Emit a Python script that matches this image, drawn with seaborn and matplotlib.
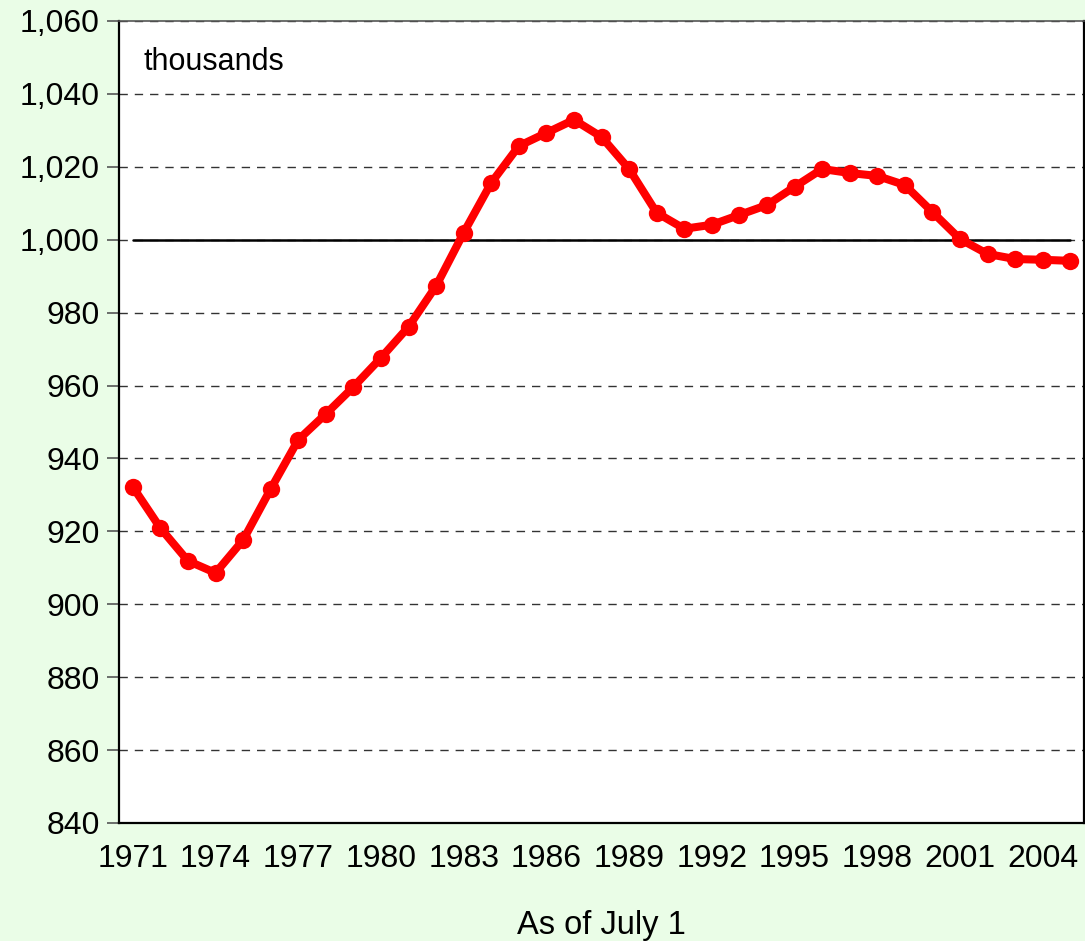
import numpy as np
import pandas as pd
import matplotlib.pyplot as plt
import seaborn as sns

# ---------------------------------------------------------
# Data (thousands, as of July 1)
# ---------------------------------------------------------
years = list(range(1971, 2006))
population = [932.2, 920.9, 911.9, 908.6, 917.6, 931.6, 945.1, 952.2, 959.6, 967.6,
              976.1, 987.3, 1001.9, 1015.6, 1025.7, 1029.3, 1032.9, 1028.2, 1019.4, 1007.4,
              1003.0, 1004.1, 1006.8, 1009.5, 1014.5, 1019.4, 1018.3, 1017.5, 1015.0, 1007.6,
              1000.2, 996.1, 994.7, 994.5, 994.2]
baseline = 1000
label_years = list(range(1971, 2006, 3))
y_ticks = list(range(840, 1061, 20))

df = pd.DataFrame({"year": years, "population": population})

# ---------------------------------------------------------
# Plot
# ---------------------------------------------------------
sns.set_style("white")
plt.rcParams["font.family"] = ["Liberation Sans", "DejaVu Sans"]
plt.rcParams["text.color"] = "black"
plt.rcParams["axes.labelcolor"] = "black"
plt.rcParams["xtick.color"] = "black"
plt.rcParams["ytick.color"] = "black"

bg = "#EAFDE7"
fig = plt.figure(figsize=(10.85, 9.41), dpi=100, facecolor=bg)
ax = fig.add_axes([0.1097, 0.1254, 0.8894, 0.8523])
ax.set_facecolor("white")

ax.plot(years, [baseline] * len(years), color="black", lw=1.8, zorder=2)
sns.lineplot(data=df, x="year", y="population", color="#FF0000", lw=5.8,
             marker="o", markersize=12.5, markeredgewidth=0, ax=ax, zorder=3)

ax.set_xlim(1970.5, 2005.5)
ax.set_ylim(840, 1060)
ax.set_yticks(y_ticks)
ax.set_yticklabels([f"{v:,}" for v in y_ticks], fontsize=23)
ax.set_xticks(label_years)
ax.set_xticklabels([str(y) for y in label_years], fontsize=23)
ax.set_xticks(np.arange(1970.5, 2006, 1), minor=True)
ax.tick_params(axis="x", which="major", length=0, pad=15)
ax.tick_params(axis="x", which="minor", direction="in", length=9, width=1.2, color="#555555")
ax.tick_params(axis="y", which="major", direction="out", length=9, width=1.2, pad=5,
               left=True, color="#555555")

ax.yaxis.grid(True, linestyle=(0, (6, 5)), color="#333333", lw=1)
ax.xaxis.grid(False)
ax.set_axisbelow(True)

for side in ["left", "bottom", "right"]:
    ax.spines[side].set_color("black")
    ax.spines[side].set_linewidth(1.6)
ax.spines["top"].set_color("#555555")
ax.spines["top"].set_linewidth(1.2)

ax.set_xlabel("As of July 1", fontsize=23.5, labelpad=26)
ax.set_ylabel("")
ax.text(0.025, 0.967, "thousands", transform=ax.transAxes, fontsize=22,
        ha="left", va="top")

plt.savefig("out.png", dpi=100, facecolor=bg)
plt.close()
